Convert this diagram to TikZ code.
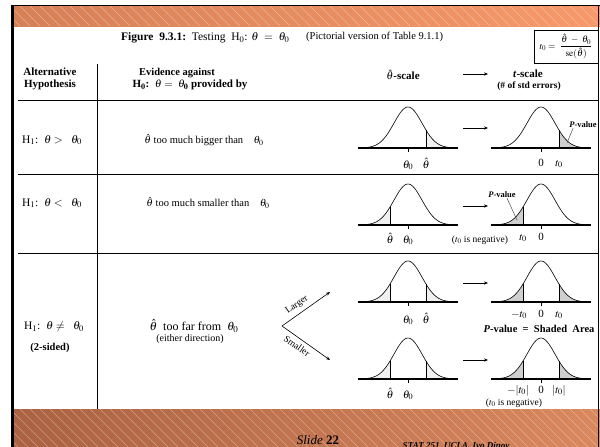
\documentclass[tikz,border=0pt]{standalone}
\usepackage{amsmath}
\usepackage{mathptmx}
\usepackage{fontspec}
\setmainfont{Liberation Serif}
\usetikzlibrary{arrows.meta,positioning}
\definecolor{bandL}{RGB}{214,128,88}
\definecolor{bandR}{RGB}{247,153,106}
\definecolor{footL}{RGB}{170,98,66}
\definecolor{footR}{RGB}{218,136,94}
\tikzset{
  frameS/.style ={black, line width=2.6pt},
  ruleS/.style  ={black, line width=1pt},
  curveS/.style ={black, line width=0.6pt},
  baseS/.style  ={black, line width=1.1pt},
  tickS/.style  ={black, line width=0.8pt},
  hatchS/.style ={white, opacity=0.35, line width=0.4pt},
  lightS/.style ={fill=gray!12},
  darkS/.style  ={fill=gray!38},
  arrowS/.style ={-{Stealth[length=4pt,width=3.2pt]}, line width=0.6pt},
  pointS/.style ={black!70, line width=0.5pt},
  capS/.style   ={font=\fontsize{11.5}{12}\selectfont, inner sep=0pt},
  noteS/.style  ={font=\fontsize{10.5}{11}\selectfont, inner sep=0pt},
  headS/.style  ={font=\fontsize{11}{11.5}\selectfont\bfseries, inner sep=0pt, align=center},
  bodyS/.style  ={font=\fontsize{10.5}{11}\selectfont, inner sep=0pt},
  smallS/.style ={font=\fontsize{9.5}{10}\selectfont, inner sep=0pt},
  axisS/.style  ={font=\fontsize{11}{12}\selectfont, inner sep=0pt, anchor=base},
  pvalS/.style  ={font=\fontsize{8.5}{9}\selectfont\bfseries, inner sep=0pt},
}
% normal curve: #1 centre x, #2 base line y
\newcommand\bellC[2]{%
  \draw[curveS] plot[domain=-46:46, samples=61, smooth] ({#1+\x},{#2-41*exp(-((\x)*(\x))/392)});
  \draw[baseS] ({#1-50},#2) -- ({#1+50},#2);
  \draw[tickS] (#1,#2) -- (#1,{#2+4});}
% shaded tails: #1 centre x, #2 base line y, #3 fill style
\newcommand\tailR[3]{%
  \fill[#3] ({#1+18},#2) -- plot[domain=18:46, samples=25] ({#1+\x},{#2-41*exp(-((\x)*(\x))/392)}) -- ({#1+46},#2) -- cycle;
  \draw[curveS] ({#1+18},#2) -- ({#1+18},{#2-41*exp(-324/392)});}
\newcommand\tailL[3]{%
  \fill[#3] ({#1-46},#2) -- plot[domain=-46:-18, samples=25] ({#1+\x},{#2-41*exp(-((\x)*(\x))/392)}) -- ({#1-18},#2) -- cycle;
  \draw[curveS] ({#1-18},#2) -- ({#1-18},{#2-41*exp(-324/392)});}
\begin{document}
\begin{tikzpicture}[x=1pt, y=-1pt]
  \useasboundingbox (0,0) rectangle (600,447);
  % top and bottom bands
  \begin{scope}
    \clip (11,6) rectangle (600,26);
    \shade[left color=bandL, right color=bandR] (11,6) rectangle (600,26);
    \foreach \h in {-20,-10,...,600}{\draw[hatchS] (\h,6) -- ({\h+20},26);}
  \end{scope}
  \begin{scope}
    \clip (11,409) rectangle (600,447);
    \shade[left color=footL, right color=footR] (11,409) rectangle (600,447);
    \foreach \h in {-40,-30,...,600}{\draw[hatchS] (\h,409) -- ({\h+38},447);}
  \end{scope}
  \draw[black, line width=0.8pt] (11,5.4) -- (600,5.4);
  \draw[frameS] (12.3,5) -- (12.3,447);
  \draw[ruleS] (598,5) -- (598,447);
  % table rules
  \draw[ruleS] (18,100) -- (598,100);
  \draw[ruleS] (18,174) -- (598,174);
  \draw[ruleS] (18,253) -- (598,253);
  \draw[ruleS] (97,64) -- (97,409);
  % caption and formula box
  \node[capS, anchor=west] (cap) at (121,38) {\textbf{Figure\ \ 9.3.1:}\ \ Testing\ \ H$_0$: $\theta\ =\ \theta_0$};
  \node[noteS, anchor=west] (capnote) at (306,37) {(Pictorial version of Table 9.1.1)};
  \node[draw, line width=0.8pt, minimum width=64pt, minimum height=33pt, inner sep=1pt,
        font=\fontsize{9.5}{10}\selectfont] (tbox) at (566,46.5)
        {$t_0=\ \dfrac{\hat{\theta}\ -\ \theta_0}{\mathrm{se}(\hat{\theta})}$};
  % headers
  \node[headS] (altH) at (50,79) {Alternative\\Hypothesis};
  \node[headS, font=\fontsize{10.5}{11}\selectfont\bfseries] (eviH) at (177,73) {Evidence against};
  \node[headS] (eviH2) at (190,85) {H$_{\mathbf{0}}$:\ \ $\theta=\ \theta_{\mathbf{0}}$ provided by};
  \node[headS] (thscale) at (403,75) {$\hat{\theta}$-scale};
  \node[headS] (tscale) at (528,74) {\textit{t}-scale};
  \node[headS, font=\fontsize{9.5}{10}\selectfont\bfseries] (tscale2) at (529,86) {(\# of std errors)};
  \coordinate (hA) at (463,74); \coordinate (hB) at (488,74);
  \draw[arrowS] (hA) -- (hB);
  % row 1
  \node[bodyS, font=\fontsize{11.5}{12}\selectfont] (alt1) at (52,140) {H$_1$:\ \ $\theta>\ \ \theta_0$};
  \node[bodyS] (evi1) at (204,140) {$\hat{\theta}$ too much bigger than\ \ \ \ $\theta_0$};
  \tailR{408}{148}{lightS} \bellC{408}{148}
  \tailR{541}{148}{darkS}  \bellC{541}{148}
  \node[axisS] (r1a) at (408,168) {$\theta_0$};
  \node[axisS] (r1b) at (426,168) {$\hat{\theta}$};
  \node[axisS] (r1c) at (541,166) {0};
  \node[axisS] (r1d) at (559,166) {$t_0$};
  \coordinate (a1L) at (463,128); \coordinate (a1R) at (488,128);
  \draw[arrowS] (a1L) -- (a1R);
  \node[pvalS] (pv1) at (583,125) {\textit{P}-value};
  \coordinate (pv1t) at (567,143);
  \draw[pointS] (pv1.south west) ++(4,0) coordinate (pv1s) -- (pv1t);
  % row 2
  \node[bodyS, font=\fontsize{11.5}{12}\selectfont] (alt2) at (52,203) {H$_1$:\ \ $\theta<\ \ \theta_0$};
  \node[bodyS] (evi2) at (208,203) {$\hat{\theta}$ too much smaller than\ \ \ \ $\theta_0$};
  \tailL{408}{225}{lightS} \bellC{408}{225}
  \tailL{541}{225}{darkS}  \bellC{541}{225}
  \node[axisS] (r2a) at (390,243) {$\hat{\theta}$};
  \node[axisS] (r2b) at (408,243) {$\theta_0$};
  \node[axisS] (r2c) at (523,240) {$t_0$};
  \node[axisS] (r2d) at (541,240) {0};
  \node[smallS] (tneg1) at (480,240) {($t_0$ is negative)};
  \coordinate (a2L) at (463,206); \coordinate (a2R) at (488,206);
  \draw[arrowS] (a2L) -- (a2R);
  \node[pvalS] (pv2) at (502,195) {\textit{P}-value};
  \coordinate (pv2t) at (517,220);
  \draw[pointS] (pv2.south) ++(5,0) coordinate (pv2s) -- (pv2t);
  % row 3
  \node[bodyS, font=\fontsize{11.5}{12}\selectfont] (alt3) at (54,327) {H$_1$:\ \ $\theta\neq\ \ \theta_0$};
  \node[bodyS, font=\fontsize{10.5}{11}\selectfont\bfseries] (twos) at (50,348) {(2-sided)};
  \node[bodyS, font=\fontsize{12}{12}\selectfont] (evi3) at (194,326) {$\hat{\theta}$\ \ too far from\ \ $\theta_0$};
  \node[smallS, font=\fontsize{10}{10}\selectfont] (either) at (190,339) {(either direction)};
  \coordinate (fork) at (282,326);
  \coordinate (forkU) at (330,292); \coordinate (forkD) at (330,360);
  \draw[arrowS] (fork) -- (forkU);
  \draw[arrowS] (fork) -- (forkD);
  \node[smallS, rotate=35] (larger) at (297,305) {Larger};
  \node[smallS, rotate=-35] (smaller) at (297,346) {Smaller};
  \tailL{408}{302}{lightS} \tailR{408}{302}{lightS} \bellC{408}{302}
  \tailL{541}{302}{darkS}  \tailR{541}{302}{darkS}  \bellC{541}{302}
  \node[axisS] (r3a) at (408,323) {$\theta_0$};
  \node[axisS] (r3b) at (426,323) {$\hat{\theta}$};
  \node[axisS] (r3c) at (519,317) {$-t_0$};
  \node[axisS] (r3d) at (541,317) {0};
  \node[axisS] (r3e) at (559,317) {$t_0$};
  \coordinate (a3L) at (463,283); \coordinate (a3R) at (488,283);
  \draw[arrowS] (a3L) -- (a3R);
  \node[pvalS, font=\fontsize{10.5}{11}\selectfont\bfseries] (pvsh) at (539,329) {\textit{P}-value\ \ =\ \ Shaded\ \ Area};
  \tailL{408}{379}{lightS} \tailR{408}{379}{lightS} \bellC{408}{379}
  \tailL{541}{379}{darkS}  \tailR{541}{379}{darkS}  \bellC{541}{379}
  \node[axisS] (r4a) at (390,398) {$\hat{\theta}$};
  \node[axisS] (r4b) at (408,398) {$\theta_0$};
  \node[axisS] (r4c) at (518,393) {$-|t_0|$};
  \node[axisS] (r4d) at (541,393) {0};
  \node[axisS] (r4e) at (559,393) {$|t_0|$};
  \node[smallS] (tneg2) at (514,403) {($t_0$ is negative)};
  \coordinate (a4L) at (463,360); \coordinate (a4R) at (488,360);
  \draw[arrowS] (a4L) -- (a4R);
  % footer
  \node[anchor=base, inner sep=0pt, font=\fontsize{13}{14}\selectfont] (slide) at (318,444) {\textit{Slide} \textbf{22}};
  \node[anchor=base, inner sep=0pt, font=\fontsize{9}{10}\selectfont\bfseries\itshape] (stat) at (456,448) {STAT 251, UCLA, Ivo Dinov};
\end{tikzpicture}
\end{document}
